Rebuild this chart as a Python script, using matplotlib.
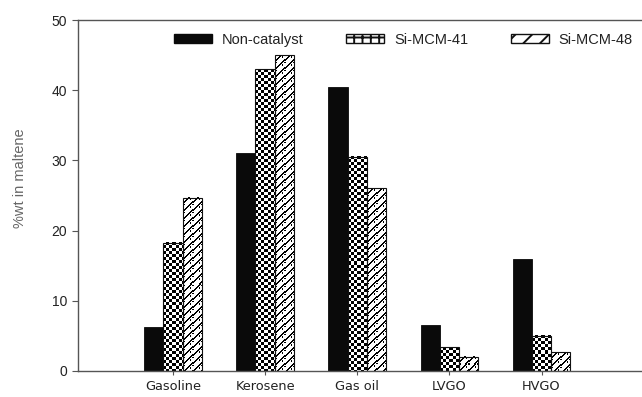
import numpy as np
import matplotlib
matplotlib.use("Agg")
import matplotlib.pyplot as plt
from matplotlib.patches import Patch

# fraction yields (%wt in maltene)
fractions = ["Gasoline", "Kerosene", "Gas oil", "LVGO", "HVGO"]
series_names = ["Non-catalyst", "Si-MCM-41", "Si-MCM-48"]
non_catalyst = [6.2, 31.0, 40.5, 6.5, 16.0]
si_mcm_41 = [18.3, 43.0, 30.5, 3.4, 5.0]
si_mcm_48 = [24.7, 45.0, 26.0, 2.0, 2.7]

BAR_W = 0.208
AXIS_GRAY = "#555555"
TEXT_COLOR = "#222222"

plt.rcParams["font.family"] = ["Liberation Sans", "DejaVu Sans"]
plt.rcParams["hatch.linewidth"] = 1.4


def checker(rows, cols, cell=3):
    i, j = np.indices((rows, cols))
    return 1 - ((i // cell + j // cell) % 2)


def zigzag(rows, cols):
    tile = np.array([
        [0, 0, 0, 0, 0, 1, 1, 0],
        [0, 0, 0, 0, 1, 1, 0, 1],
        [0, 0, 0, 1, 1, 0, 0, 1],
        [0, 0, 1, 1, 0, 0, 0, 0],
        [0, 1, 1, 0, 0, 0, 0, 0],
        [1, 1, 0, 0, 0, 0, 0, 0],
        [1, 0, 0, 0, 0, 0, 0, 1],
        [0, 1, 0, 0, 0, 0, 1, 1],
    ])
    reps = (rows // 8 + 1, cols // 8 + 1)
    return 1 - np.tile(tile, reps)[:rows, :cols]


def fill_texture(ax, bars, maker):
    # paint a pixel texture inside each bar rectangle
    for b in bars:
        x0, y0 = b.get_x(), b.get_y()
        x1, y1 = x0 + b.get_width(), y0 + b.get_height()
        p0 = ax.transData.transform((x0, y0))
        p1 = ax.transData.transform((x1, y1))
        cols = max(int(round(p1[0] - p0[0])), 1)
        rows = max(int(round(p1[1] - p0[1])), 1)
        ax.imshow(maker(rows, cols), cmap="gray", vmin=0, vmax=1,
                  extent=(x0, x1, y0, y1), aspect="auto",
                  interpolation="nearest", zorder=1)


fig = plt.figure(figsize=(6.42, 3.97), dpi=100)
ax = fig.add_axes([78 / 642, 26 / 397, 1 - 78 / 642, 351 / 397])

x = np.arange(1, len(fractions) + 1)
ax.set_xlim(-0.03, 6.09)
ax.set_ylim(0, 50)

b1 = ax.bar(x - BAR_W, non_catalyst, BAR_W, color="#0a0a0a",
            edgecolor="#0a0a0a", linewidth=0.6, zorder=2)
b2 = ax.bar(x, si_mcm_41, BAR_W, facecolor="none",
            edgecolor="#111111", linewidth=0.8, zorder=2)
b3 = ax.bar(x + BAR_W, si_mcm_48, BAR_W, facecolor="none",
            edgecolor="#111111", linewidth=0.8, zorder=2)

fill_texture(ax, b2, checker)
fill_texture(ax, b3, zigzag)
ax.set_xlim(-0.03, 6.09)
ax.set_ylim(0, 50)

ax.set_xticks(x)
ax.set_xticklabels(fractions, fontsize=9.3, color=TEXT_COLOR,
                   family=["DejaVu Sans"])
ax.set_yticks(np.arange(0, 51, 10))
ax.tick_params(axis="y", labelsize=10, colors=TEXT_COLOR, length=4,
               width=0.8, color=AXIS_GRAY, pad=4)
ax.tick_params(axis="x", length=3, width=0.8, color=AXIS_GRAY, pad=3.5)

for side in ["left", "bottom", "top"]:
    ax.spines[side].set_color(AXIS_GRAY)
    ax.spines[side].set_linewidth(1.0)
ax.spines["right"].set_visible(False)

ax.set_ylabel("%wt in maltene", fontsize=10.5, color="#666666")
ax.yaxis.set_label_coords(-0.090, 0.55)

handles = [
    Patch(facecolor="#0a0a0a", edgecolor="#0a0a0a"),
    Patch(facecolor="white", edgecolor="#111111", hatch="++"),
    Patch(facecolor="white", edgecolor="#111111", hatch="//"),
]
fig.legend(handles, series_names, loc="upper left",
           bbox_to_anchor=(174 / 642, 1 - 33 / 397), ncol=3, frameon=False,
           fontsize=10.5, labelcolor=TEXT_COLOR, handlelength=2.6,
           handleheight=0.6, handletextpad=0.7, columnspacing=2.9,
           borderpad=0, borderaxespad=0)

fig.savefig("out.png", dpi=100)
